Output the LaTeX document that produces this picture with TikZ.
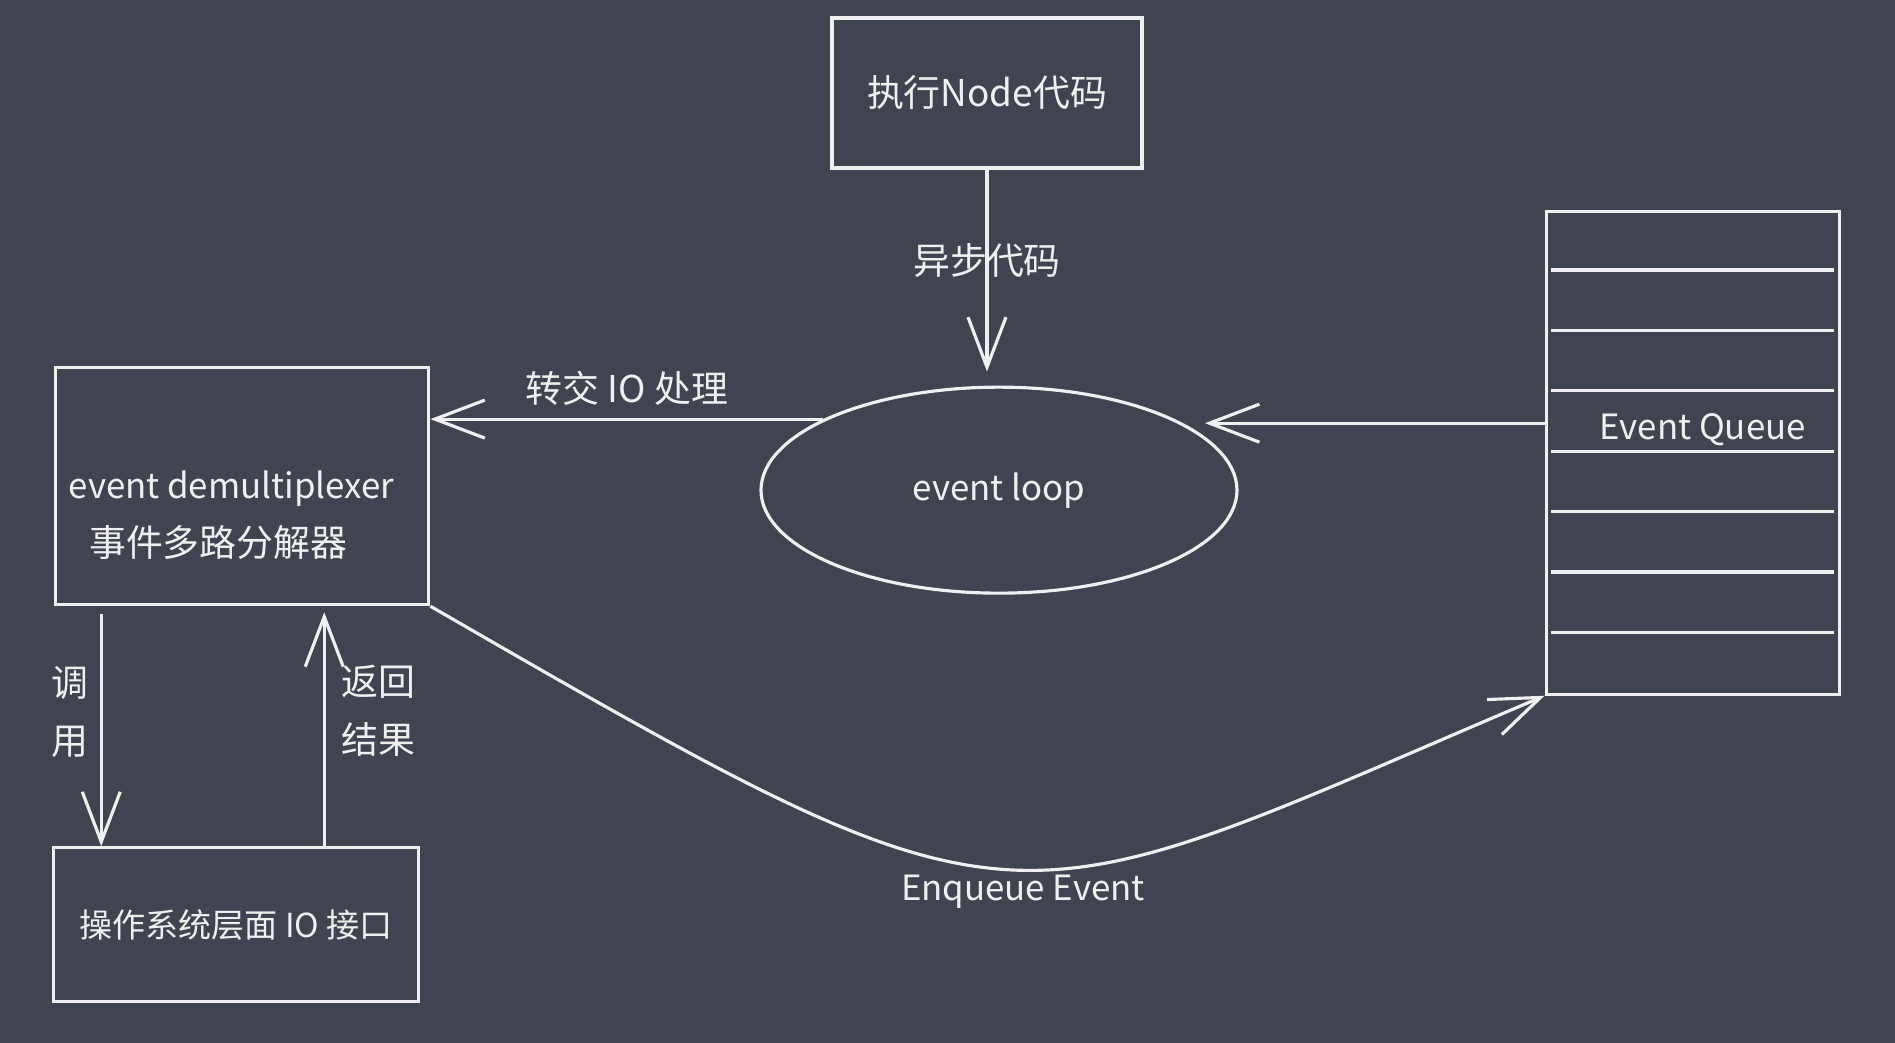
\documentclass[tikz,border=0pt]{standalone}
\usepackage{fontspec}
\setmainfont{Noto Sans CJK SC}
\usepackage{tikz}
\usetikzlibrary{shapes.geometric, arrows.meta, positioning}
\definecolor{slatebg}{RGB}{64,68,80}
\definecolor{chalk}{RGB}{240,240,240}

\begin{document}
\begin{tikzpicture}[
    every node/.style={text=chalk, font=\fontsize{10.5}{16.5}\selectfont},
    latin/.style={font=\fontsize{9.9}{16.5}\selectfont},
    box/.style={draw=chalk, rectangle, line width=0.9pt, inner sep=0pt, align=center},
    loopshape/.style={draw=chalk, ellipse, line width=0.9pt, inner sep=0pt, minimum width=4.76cm, minimum height=2.06cm},
    arrow/.style={line width=0.9pt, ->, >={Straight Barb[length=5mm, width=3.8mm]}, color=chalk},
    qline/.style={line width=0.9pt, draw=chalk}
]
\fill[slatebg] (0,0) rectangle (18.95,-10.43);

\node (exec) [box, minimum width=3.1cm, minimum height=1.5cm] at (9.87,-0.93) {执行Node代码};
\node (loop) [loopshape, latin, below=2.16cm of exec, xshift=0.12cm] {event loop};
\node (demux) [box, minimum width=3.73cm, minimum height=2.37cm, left=3.29cm of loop, yshift=0.04cm] {};
\node (demuxtxt) [align=center] at ([xshift=-0.24cm, yshift=-0.29cm]demux.center) {{\fontsize{9.9}{16.5}\selectfont\hspace*{0.26cm}event demultiplexer}\\事件多路分解器};
\node (osio) [box, minimum width=3.65cm, minimum height=1.54cm, below=2.4cm of demux, xshift=-0.06cm, font=\fontsize{9.4}{12}\selectfont] {操作系统层面 IO 接口};
\node (queue) [box, minimum width=2.93cm, minimum height=4.83cm, right=3.06cm of loop, yshift=0.375cm] {};
\foreach \i in {1,...,7}
    \draw[qline] ([xshift=0.06cm, yshift=-\i*0.604cm]queue.north west) -- ([xshift=-0.07cm, yshift=-\i*0.604cm]queue.north east);
\node (qlabel) [latin] at ([xshift=0.1cm, yshift=-2.2cm]queue.north) {Event Queue};

\coordinate (calltop) at ([xshift=0.47cm, yshift=-0.08cm]demux.south west);
\coordinate (rettop) at ([xshift=2.7cm, yshift=-0.06cm]demux.south west);

\draw [arrow, shorten >=0.14cm] (exec.south) -- node[pos=0.42] (asynclbl) {异步代码} (exec.south |- loop.north);
\draw [arrow] (loop.158) -- node[above] (handlbl) {转交 IO 处理} (demux.east |- loop.158);
\draw [arrow, shorten >=0.22cm] (queue.west |- loop.20) -- (loop.20);
\draw [arrow] (calltop) -- node[pos=0.42, left, align=center] (calllbl) {调\\用} (calltop |- osio.north);
\draw [arrow] (rettop |- osio.north) -- node[pos=0.58, right, xshift=0.04cm, align=center] (retlbl) {返回\\结果} (rettop);
\draw [arrow] (demux.south east) to[out=-30, in=203, out looseness=1.6, in looseness=1.37] node[pos=0.5, below, inner sep=1pt, xshift=0.15cm, latin] (enqlbl) {Enqueue Event} (queue.south west);

\end{tikzpicture}
\end{document}
